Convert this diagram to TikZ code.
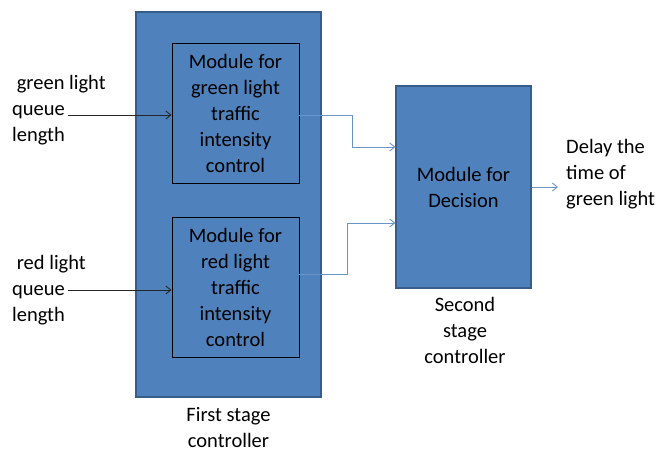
\documentclass[tikz,border=0pt]{standalone}
\usepackage{fontspec}
\setmainfont{Carlito}
\usetikzlibrary{arrows.meta}
\definecolor{boxblue}{HTML}{4F81BD}
\definecolor{boxedge}{HTML}{385D8A}
\definecolor{linkblue}{HTML}{6A93C8}
\tikzset{
  every node/.style={font=\fontsize{20.5}{26}\selectfont, inner sep=0pt},
  stage/.style={draw=boxedge, line width=1.2pt, fill=boxblue},
  module/.style={draw=black, line width=0.9pt, fill=boxblue, align=center},
  link/.style={draw=linkblue, line width=0.9pt, -{Straight Barb[length=5pt,width=8pt]}},
  feed/.style={draw=black!85, line width=0.9pt, -{Straight Barb[length=5pt,width=8pt]}}
}
\begin{document}
\begin{tikzpicture}[x=1pt,y=-1pt]
  \useasboundingbox (0,0) rectangle (661,452);
  \draw
    (228.5,204.5) node[stage, minimum width=185pt, minimum height=385pt] (first){}
    (235.5,113) node[module, minimum width=127pt, minimum height=140pt] (gmod){Module for\\green light\\traffic\\intensity\\control}
    (235.5,287) node[module, minimum width=127pt, minimum height=140pt] (rmod){Module for\\red light\\traffic\\intensity\\control}
    (463.5,187) node[stage, minimum width=135pt, minimum height=202pt, align=center] (dec){Module for\\Decision}
    (12,110) node[anchor=west, align=left] (gin){\ green light\\queue\\length}
    (12,290) node[anchor=west, align=left] (rin){\ red light\\queue\\length}
    (228.5,428) node[align=center] (firstlbl){First stage\\controller}
    (465,330) node[align=center] (declbl){Second\\stage\\controller}
    (566,174) node[anchor=west, align=left] (out){Delay the\\time of\\green light};
  \coordinate (gstart) at (68,115);
  \coordinate (rstart) at (68,290);
  \coordinate (gbend) at (352,147);
  \coordinate (rbend) at (347,223);
  \coordinate (rfrom) at (299,274);
  \coordinate (oend) at (558,187);
  \begin{scope}
    \draw[feed] (gstart) -- (gstart -| gmod.west);
    \draw[feed] (rstart) -- (rstart -| rmod.west);
    \draw[link, -] (gstart -| gmod.east) -| (gbend);
    \draw[link] (gbend) -- (gbend -| dec.west);
    \draw[link, -] (rfrom) -| (rbend);
    \draw[link] (rbend) -- (rbend -| dec.west);
    \draw[link] (dec.east) -- (oend);
  \end{scope}
\end{tikzpicture}
\end{document}
